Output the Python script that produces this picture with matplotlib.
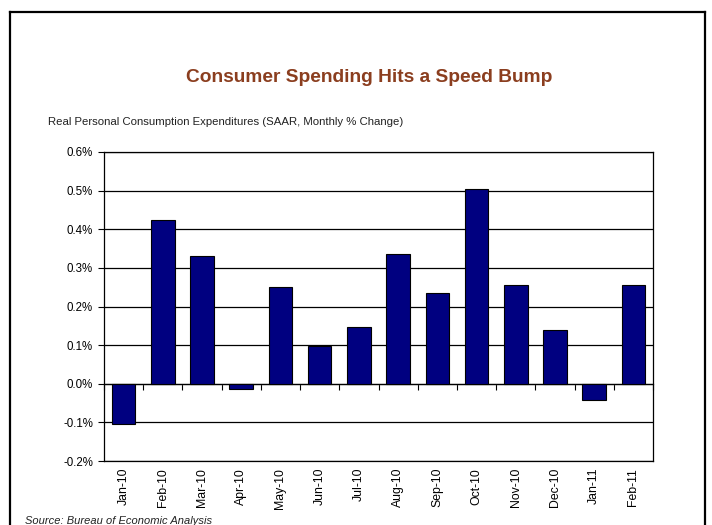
import numpy as np
import matplotlib
matplotlib.use("Agg")
import matplotlib.pyplot as plt
from matplotlib.lines import Line2D
from matplotlib.ticker import FuncFormatter

months = ["Jan-10", "Feb-10", "Mar-10", "Apr-10", "May-10", "Jun-10", "Jul-10",
          "Aug-10", "Sep-10", "Oct-10", "Nov-10", "Dec-10", "Jan-11", "Feb-11"]
pce_change = [-0.105, 0.425, 0.33, -0.013, 0.25, 0.097, 0.146,
              0.337, 0.234, 0.504, 0.255, 0.138, -0.042, 0.255]  # % m/m
y_ticks = [-0.2, -0.1, 0.0, 0.1, 0.2, 0.3, 0.4, 0.5, 0.6]

plt.rcParams["font.family"] = ["Liberation Sans", "DejaVu Sans"]

W, H = 712, 525
fig = plt.figure(figsize=(W / 100, H / 100), dpi=100)

# outer frame (open at the bottom, cut off by the image edge)
for xs, ys in [([10, 10], [525, 12]), ([10, 705], [12, 12]), ([705, 705], [12, 525])]:
    fig.add_artist(Line2D([x / W for x in xs], [1 - y / H for y in ys],
                          color="black", lw=1.6))

fig.text(369 / W, 1 - 77 / H, "Consumer Spending Hits a Speed Bump",
         ha="center", va="center", fontsize=13.8, fontweight="bold", color="#8B3E1F")
fig.text(48 / W, 1 - 122 / H,
         "Real Personal Consumption Expenditures (SAAR, Monthly % Change)",
         ha="left", va="center", fontsize=8.2, color="#222222")
fig.text(25 / W, 1 - 521 / H, "Source: Bureau of Economic Analysis",
         ha="left", va="center", fontsize=8, style="italic", color="#222222")

ax = fig.add_axes([104 / W, 1 - 461 / H, (653 - 104) / W, (461 - 152) / H])
x = np.arange(len(months))
ax.bar(x, pce_change, width=0.6, color="#000080", edgecolor="black", lw=0.8, zorder=3)

ax.set_xlim(-0.5, len(months) - 0.5)
ax.set_ylim(y_ticks[0], y_ticks[-1])
ax.set_yticks(y_ticks)
ax.yaxis.set_major_formatter(FuncFormatter(lambda v, _: f"{v:.1f}%"))
ax.grid(axis="y", color="black", lw=0.9, zorder=1)
ax.tick_params(axis="y", length=4, width=0.8, labelsize=8.3, pad=4)

ax.set_xticks(x)
ax.set_xticklabels(months, rotation=90, fontsize=8.8)
ax.tick_params(axis="x", length=0, pad=5)
for s in ax.spines.values():
    s.set_linewidth(0.9)

# category axis drawn at zero with boundary ticks
zero_ax = ax.secondary_xaxis((0 - y_ticks[0]) / (y_ticks[-1] - y_ticks[0]))
zero_ax.set_xticks(np.arange(len(months) + 1) - 0.5)
zero_ax.tick_params(length=4, width=0.8, labelbottom=False, color="black")
zero_ax.spines["bottom"].set_color("#777777")
zero_ax.spines["bottom"].set_linewidth(1.0)

fig.savefig("out.png", dpi=100)
